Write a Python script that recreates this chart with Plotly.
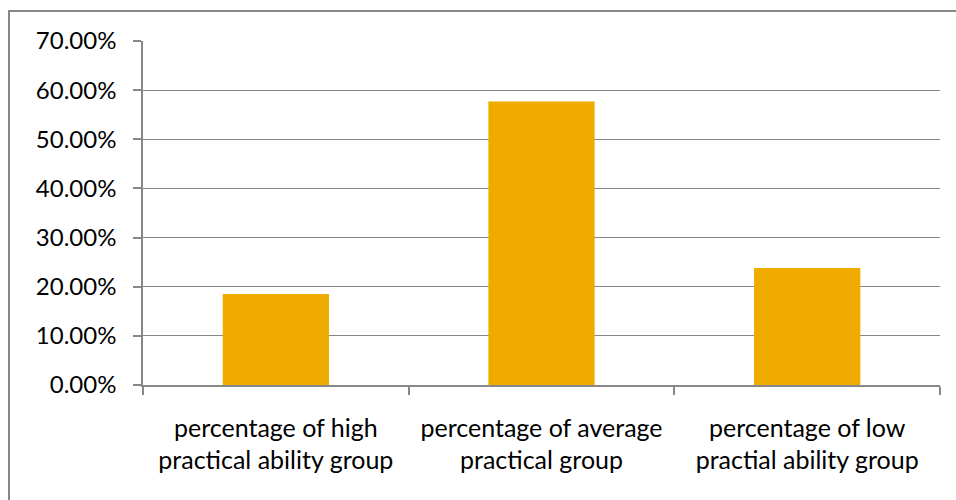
import plotly.graph_objects as go

categories = [
    "percentage of high<br>practical ability group",
    "percentage of average<br>practical group",
    "percentage of low<br>practial ability group",
]
values = [0.185, 0.577, 0.238]
y_ticks = [0.0, 0.1, 0.2, 0.3, 0.4, 0.5, 0.6, 0.7]

W, H = 956, 500
ml, mr, mt, mb = 143, 16, 41, 115
pw = W - ml - mr
ph = H - mt - mb

FONT = "Lato"
GRAY = "#878787"

fig = go.Figure(
    go.Bar(
        x=categories,
        y=values,
        marker=dict(color="#F0AB00", line=dict(width=0)),
        hoverinfo="skip",
    )
)

fig.update_layout(
    width=W,
    height=H,
    margin=dict(l=ml, r=mr, t=mt, b=mb, pad=0),
    paper_bgcolor="white",
    plot_bgcolor="white",
    bargap=0.6,
    showlegend=False,
    font=dict(family=FONT, size=24, color="#000000"),
)

fig.update_yaxes(
    range=[0, 0.7],
    tickvals=y_ticks,
    tickformat=".2%",
    tickfont=dict(family=FONT, size=24, color="#000000"),
    showgrid=True,
    gridcolor=GRAY,
    gridwidth=1,
    showline=True,
    linecolor=GRAY,
    linewidth=1.5,
    ticks="outside",
    ticklen=8,
    tickcolor=GRAY,
    tickwidth=1.5,
    ticklabelstandoff=12,
    zeroline=False,
    fixedrange=True,
)

fig.update_xaxes(
    type="category",
    tickfont=dict(family=FONT, size=25, color="#000000"),
    showline=True,
    linecolor=GRAY,
    linewidth=1.5,
    ticks="outside",
    tickson="boundaries",
    ticklen=8,
    tickcolor=GRAY,
    tickwidth=1.5,
    showgrid=False,
    ticklabelstandoff=20,
    fixedrange=True,
)

# outer chart border
fig.add_shape(
    type="rect",
    xref="paper",
    yref="paper",
    x0=(9 - ml) / pw,
    x1=(W + 10 - ml) / pw,
    y0=-(H + 10 - mt - ph) / ph,
    y1=(H - 11 - mb) / ph,
    line=dict(color=GRAY, width=2),
    fillcolor="rgba(0,0,0,0)",
    layer="below",
)

fig.write_html("out.html")
